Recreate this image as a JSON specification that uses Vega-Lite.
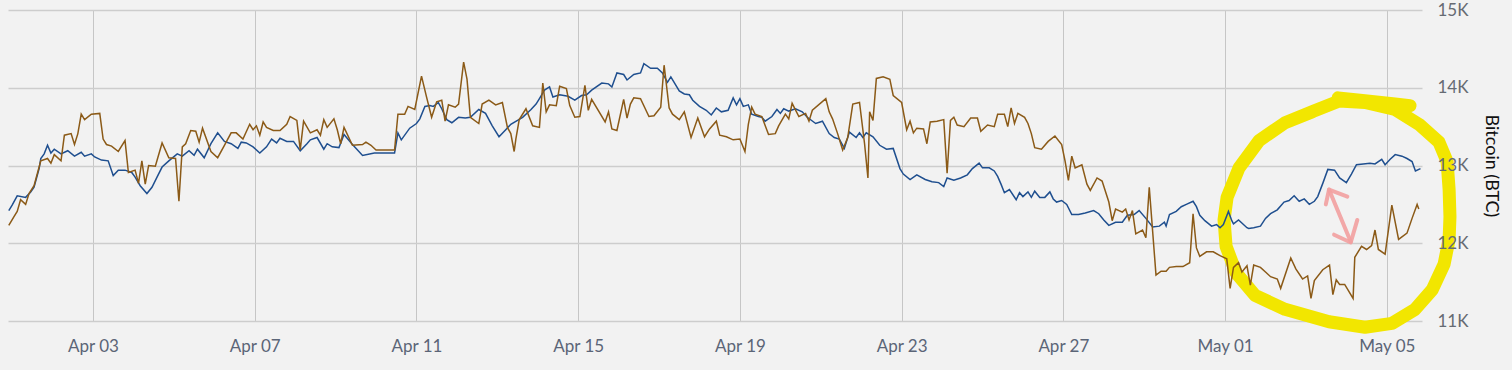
{
  "$schema": "https://vega.github.io/schema/vega-lite/v6.json",
  "width": 1414,
  "height": 311,
  "autosize": {"type": "none"},
  "padding": {"left": 8, "top": 10, "right": 90, "bottom": 49},
  "background": "#f2f2f2",
  "config": {"view": {"stroke": null}, "font": "Lato"},
  "datasets": {
    "series": [
      {"t":"2018-03-31T22:00","v":12420,"s":"Series 1"},
      {"t":"2018-04-01T00:00","v":12490,"s":"Series 1"},
      {"t":"2018-04-01T03:00","v":12610,"s":"Series 1"},
      {"t":"2018-04-01T08:00","v":12590,"s":"Series 1"},
      {"t":"2018-04-01T11:00","v":12660,"s":"Series 1"},
      {"t":"2018-04-01T13:00","v":12720,"s":"Series 1"},
      {"t":"2018-04-01T16:00","v":12960,"s":"Series 1"},
      {"t":"2018-04-01T17:00","v":13090,"s":"Series 1"},
      {"t":"2018-04-01T19:00","v":13150,"s":"Series 1"},
      {"t":"2018-04-01T21:00","v":13260,"s":"Series 1"},
      {"t":"2018-04-01T23:00","v":13160,"s":"Series 1"},
      {"t":"2018-04-02T01:00","v":13210,"s":"Series 1"},
      {"t":"2018-04-02T05:00","v":13150,"s":"Series 1"},
      {"t":"2018-04-02T09:00","v":13190,"s":"Series 1"},
      {"t":"2018-04-02T13:00","v":13120,"s":"Series 1"},
      {"t":"2018-04-02T17:00","v":13170,"s":"Series 1"},
      {"t":"2018-04-02T19:00","v":13120,"s":"Series 1"},
      {"t":"2018-04-02T23:00","v":13150,"s":"Series 1"},
      {"t":"2018-04-03T01:00","v":13110,"s":"Series 1"},
      {"t":"2018-04-03T05:00","v":13070,"s":"Series 1"},
      {"t":"2018-04-03T09:00","v":13060,"s":"Series 1"},
      {"t":"2018-04-03T12:00","v":12870,"s":"Series 1"},
      {"t":"2018-04-03T15:00","v":12940,"s":"Series 1"},
      {"t":"2018-04-03T19:00","v":12940,"s":"Series 1"},
      {"t":"2018-04-03T23:00","v":12910,"s":"Series 1"},
      {"t":"2018-04-04T01:00","v":12850,"s":"Series 1"},
      {"t":"2018-04-04T04:00","v":12740,"s":"Series 1"},
      {"t":"2018-04-04T08:00","v":12640,"s":"Series 1"},
      {"t":"2018-04-04T11:00","v":12720,"s":"Series 1"},
      {"t":"2018-04-04T14:00","v":12850,"s":"Series 1"},
      {"t":"2018-04-04T17:00","v":12980,"s":"Series 1"},
      {"t":"2018-04-04T21:00","v":13060,"s":"Series 1"},
      {"t":"2018-04-05T02:00","v":13150,"s":"Series 1"},
      {"t":"2018-04-05T05:00","v":13120,"s":"Series 1"},
      {"t":"2018-04-05T09:00","v":13190,"s":"Series 1"},
      {"t":"2018-04-05T12:00","v":13130,"s":"Series 1"},
      {"t":"2018-04-05T14:00","v":13210,"s":"Series 1"},
      {"t":"2018-04-05T18:00","v":13100,"s":"Series 1"},
      {"t":"2018-04-05T22:00","v":13280,"s":"Series 1"},
      {"t":"2018-04-06T02:00","v":13420,"s":"Series 1"},
      {"t":"2018-04-06T06:00","v":13310,"s":"Series 1"},
      {"t":"2018-04-06T10:00","v":13280,"s":"Series 1"},
      {"t":"2018-04-06T14:00","v":13220,"s":"Series 1"},
      {"t":"2018-04-06T16:00","v":13300,"s":"Series 1"},
      {"t":"2018-04-06T19:00","v":13290,"s":"Series 1"},
      {"t":"2018-04-06T23:00","v":13240,"s":"Series 1"},
      {"t":"2018-04-07T03:00","v":13160,"s":"Series 1"},
      {"t":"2018-04-07T07:00","v":13240,"s":"Series 1"},
      {"t":"2018-04-07T10:00","v":13340,"s":"Series 1"},
      {"t":"2018-04-07T13:00","v":13290,"s":"Series 1"},
      {"t":"2018-04-07T15:00","v":13350,"s":"Series 1"},
      {"t":"2018-04-07T19:00","v":13310,"s":"Series 1"},
      {"t":"2018-04-07T23:00","v":13310,"s":"Series 1"},
      {"t":"2018-04-08T03:00","v":13190,"s":"Series 1"},
      {"t":"2018-04-08T07:00","v":13280,"s":"Series 1"},
      {"t":"2018-04-08T09:00","v":13330,"s":"Series 1"},
      {"t":"2018-04-08T13:00","v":13360,"s":"Series 1"},
      {"t":"2018-04-08T17:00","v":13210,"s":"Series 1"},
      {"t":"2018-04-08T19:00","v":13280,"s":"Series 1"},
      {"t":"2018-04-08T22:00","v":13240,"s":"Series 1"},
      {"t":"2018-04-09T02:00","v":13230,"s":"Series 1"},
      {"t":"2018-04-09T05:00","v":13400,"s":"Series 1"},
      {"t":"2018-04-09T10:00","v":13270,"s":"Series 1"},
      {"t":"2018-04-09T16:00","v":13130,"s":"Series 1"},
      {"t":"2018-04-09T23:00","v":13160,"s":"Series 1"},
      {"t":"2018-04-10T11:00","v":13160,"s":"Series 1"},
      {"t":"2018-04-10T13:00","v":13420,"s":"Series 1"},
      {"t":"2018-04-10T15:00","v":13330,"s":"Series 1"},
      {"t":"2018-04-10T20:00","v":13480,"s":"Series 1"},
      {"t":"2018-04-11T00:00","v":13540,"s":"Series 1"},
      {"t":"2018-04-11T02:00","v":13600,"s":"Series 1"},
      {"t":"2018-04-11T05:00","v":13760,"s":"Series 1"},
      {"t":"2018-04-11T08:00","v":13770,"s":"Series 1"},
      {"t":"2018-04-11T10:00","v":13760,"s":"Series 1"},
      {"t":"2018-04-11T13:00","v":13810,"s":"Series 1"},
      {"t":"2018-04-11T15:00","v":13730,"s":"Series 1"},
      {"t":"2018-04-11T18:00","v":13590,"s":"Series 1"},
      {"t":"2018-04-11T21:00","v":13550,"s":"Series 1"},
      {"t":"2018-04-12T01:00","v":13620,"s":"Series 1"},
      {"t":"2018-04-12T05:00","v":13610,"s":"Series 1"},
      {"t":"2018-04-12T08:00","v":13620,"s":"Series 1"},
      {"t":"2018-04-12T13:00","v":13720,"s":"Series 1"},
      {"t":"2018-04-12T17:00","v":13670,"s":"Series 1"},
      {"t":"2018-04-12T21:00","v":13510,"s":"Series 1"},
      {"t":"2018-04-13T01:00","v":13370,"s":"Series 1"},
      {"t":"2018-04-13T05:00","v":13460,"s":"Series 1"},
      {"t":"2018-04-13T08:00","v":13530,"s":"Series 1"},
      {"t":"2018-04-13T12:00","v":13580,"s":"Series 1"},
      {"t":"2018-04-13T15:00","v":13620,"s":"Series 1"},
      {"t":"2018-04-13T20:00","v":13720,"s":"Series 1"},
      {"t":"2018-04-13T23:00","v":13790,"s":"Series 1"},
      {"t":"2018-04-14T01:00","v":13860,"s":"Series 1"},
      {"t":"2018-04-14T04:00","v":13970,"s":"Series 1"},
      {"t":"2018-04-14T07:00","v":14010,"s":"Series 1"},
      {"t":"2018-04-14T09:00","v":13880,"s":"Series 1"},
      {"t":"2018-04-14T13:00","v":13910,"s":"Series 1"},
      {"t":"2018-04-14T18:00","v":13890,"s":"Series 1"},
      {"t":"2018-04-14T22:00","v":13840,"s":"Series 1"},
      {"t":"2018-04-15T02:00","v":13900,"s":"Series 1"},
      {"t":"2018-04-15T05:00","v":13910,"s":"Series 1"},
      {"t":"2018-04-15T08:00","v":13970,"s":"Series 1"},
      {"t":"2018-04-15T14:00","v":14060,"s":"Series 1"},
      {"t":"2018-04-15T18:00","v":14050,"s":"Series 1"},
      {"t":"2018-04-15T20:00","v":14010,"s":"Series 1"},
      {"t":"2018-04-15T23:00","v":14190,"s":"Series 1"},
      {"t":"2018-04-16T03:00","v":14170,"s":"Series 1"},
      {"t":"2018-04-16T05:00","v":14100,"s":"Series 1"},
      {"t":"2018-04-16T09:00","v":14170,"s":"Series 1"},
      {"t":"2018-04-16T13:00","v":14190,"s":"Series 1"},
      {"t":"2018-04-16T15:00","v":14310,"s":"Series 1"},
      {"t":"2018-04-16T19:00","v":14250,"s":"Series 1"},
      {"t":"2018-04-16T23:00","v":14250,"s":"Series 1"},
      {"t":"2018-04-17T02:00","v":14190,"s":"Series 1"},
      {"t":"2018-04-17T05:00","v":14070,"s":"Series 1"},
      {"t":"2018-04-17T07:00","v":14140,"s":"Series 1"},
      {"t":"2018-04-17T12:00","v":13960,"s":"Series 1"},
      {"t":"2018-04-17T15:00","v":13920,"s":"Series 1"},
      {"t":"2018-04-17T18:00","v":13910,"s":"Series 1"},
      {"t":"2018-04-17T20:00","v":13840,"s":"Series 1"},
      {"t":"2018-04-18T00:00","v":13760,"s":"Series 1"},
      {"t":"2018-04-18T04:00","v":13710,"s":"Series 1"},
      {"t":"2018-04-18T07:00","v":13650,"s":"Series 1"},
      {"t":"2018-04-18T10:00","v":13740,"s":"Series 1"},
      {"t":"2018-04-18T13:00","v":13690,"s":"Series 1"},
      {"t":"2018-04-18T17:00","v":13710,"s":"Series 1"},
      {"t":"2018-04-18T20:00","v":13870,"s":"Series 1"},
      {"t":"2018-04-18T22:00","v":13780,"s":"Series 1"},
      {"t":"2018-04-19T00:00","v":13860,"s":"Series 1"},
      {"t":"2018-04-19T02:00","v":13760,"s":"Series 1"},
      {"t":"2018-04-19T05:00","v":13780,"s":"Series 1"},
      {"t":"2018-04-19T07:00","v":13660,"s":"Series 1"},
      {"t":"2018-04-19T11:00","v":13630,"s":"Series 1"},
      {"t":"2018-04-19T13:00","v":13620,"s":"Series 1"},
      {"t":"2018-04-19T15:00","v":13570,"s":"Series 1"},
      {"t":"2018-04-19T19:00","v":13630,"s":"Series 1"},
      {"t":"2018-04-19T22:00","v":13720,"s":"Series 1"},
      {"t":"2018-04-20T00:00","v":13670,"s":"Series 1"},
      {"t":"2018-04-20T02:00","v":13730,"s":"Series 1"},
      {"t":"2018-04-20T05:00","v":13700,"s":"Series 1"},
      {"t":"2018-04-20T09:00","v":13730,"s":"Series 1"},
      {"t":"2018-04-20T13:00","v":13690,"s":"Series 1"},
      {"t":"2018-04-20T16:00","v":13620,"s":"Series 1"},
      {"t":"2018-04-20T21:00","v":13540,"s":"Series 1"},
      {"t":"2018-04-21T01:00","v":13570,"s":"Series 1"},
      {"t":"2018-04-21T05:00","v":13410,"s":"Series 1"},
      {"t":"2018-04-21T08:00","v":13360,"s":"Series 1"},
      {"t":"2018-04-21T11:00","v":13340,"s":"Series 1"},
      {"t":"2018-04-21T14:00","v":13220,"s":"Series 1"},
      {"t":"2018-04-21T17:00","v":13430,"s":"Series 1"},
      {"t":"2018-04-21T21:00","v":13360,"s":"Series 1"},
      {"t":"2018-04-21T23:00","v":13420,"s":"Series 1"},
      {"t":"2018-04-22T01:00","v":13360,"s":"Series 1"},
      {"t":"2018-04-22T03:00","v":13420,"s":"Series 1"},
      {"t":"2018-04-22T07:00","v":13370,"s":"Series 1"},
      {"t":"2018-04-22T11:00","v":13260,"s":"Series 1"},
      {"t":"2018-04-22T15:00","v":13210,"s":"Series 1"},
      {"t":"2018-04-22T19:00","v":13220,"s":"Series 1"},
      {"t":"2018-04-22T23:00","v":12960,"s":"Series 1"},
      {"t":"2018-04-23T01:00","v":12890,"s":"Series 1"},
      {"t":"2018-04-23T05:00","v":12820,"s":"Series 1"},
      {"t":"2018-04-23T09:00","v":12880,"s":"Series 1"},
      {"t":"2018-04-23T14:00","v":12820,"s":"Series 1"},
      {"t":"2018-04-23T18:00","v":12790,"s":"Series 1"},
      {"t":"2018-04-23T22:00","v":12780,"s":"Series 1"},
      {"t":"2018-04-24T01:00","v":12730,"s":"Series 1"},
      {"t":"2018-04-24T03:00","v":12840,"s":"Series 1"},
      {"t":"2018-04-24T07:00","v":12810,"s":"Series 1"},
      {"t":"2018-04-24T11:00","v":12840,"s":"Series 1"},
      {"t":"2018-04-24T15:00","v":12880,"s":"Series 1"},
      {"t":"2018-04-24T18:00","v":12960,"s":"Series 1"},
      {"t":"2018-04-24T22:00","v":13030,"s":"Series 1"},
      {"t":"2018-04-25T00:00","v":12970,"s":"Series 1"},
      {"t":"2018-04-25T04:00","v":12970,"s":"Series 1"},
      {"t":"2018-04-25T07:00","v":12930,"s":"Series 1"},
      {"t":"2018-04-25T09:00","v":12860,"s":"Series 1"},
      {"t":"2018-04-25T11:00","v":12760,"s":"Series 1"},
      {"t":"2018-04-25T13:00","v":12650,"s":"Series 1"},
      {"t":"2018-04-25T16:00","v":12690,"s":"Series 1"},
      {"t":"2018-04-25T20:00","v":12560,"s":"Series 1"},
      {"t":"2018-04-25T22:00","v":12650,"s":"Series 1"},
      {"t":"2018-04-26T00:00","v":12600,"s":"Series 1"},
      {"t":"2018-04-26T03:00","v":12660,"s":"Series 1"},
      {"t":"2018-04-26T05:00","v":12590,"s":"Series 1"},
      {"t":"2018-04-26T07:00","v":12670,"s":"Series 1"},
      {"t":"2018-04-26T10:00","v":12590,"s":"Series 1"},
      {"t":"2018-04-26T13:00","v":12590,"s":"Series 1"},
      {"t":"2018-04-26T16:00","v":12660,"s":"Series 1"},
      {"t":"2018-04-26T18:00","v":12570,"s":"Series 1"},
      {"t":"2018-04-26T20:00","v":12530,"s":"Series 1"},
      {"t":"2018-04-26T23:00","v":12550,"s":"Series 1"},
      {"t":"2018-04-27T02:00","v":12500,"s":"Series 1"},
      {"t":"2018-04-27T05:00","v":12370,"s":"Series 1"},
      {"t":"2018-04-27T09:00","v":12370,"s":"Series 1"},
      {"t":"2018-04-27T13:00","v":12390,"s":"Series 1"},
      {"t":"2018-04-27T18:00","v":12420,"s":"Series 1"},
      {"t":"2018-04-27T21:00","v":12380,"s":"Series 1"},
      {"t":"2018-04-28T00:00","v":12300,"s":"Series 1"},
      {"t":"2018-04-28T03:00","v":12230,"s":"Series 1"},
      {"t":"2018-04-28T07:00","v":12270,"s":"Series 1"},
      {"t":"2018-04-28T11:00","v":12270,"s":"Series 1"},
      {"t":"2018-04-28T14:00","v":12360,"s":"Series 1"},
      {"t":"2018-04-28T18:00","v":12370,"s":"Series 1"},
      {"t":"2018-04-28T21:00","v":12420,"s":"Series 1"},
      {"t":"2018-04-29T01:00","v":12320,"s":"Series 1"},
      {"t":"2018-04-29T05:00","v":12210,"s":"Series 1"},
      {"t":"2018-04-29T09:00","v":12220,"s":"Series 1"},
      {"t":"2018-04-29T12:00","v":12270,"s":"Series 1"},
      {"t":"2018-04-29T13:00","v":12220,"s":"Series 1"},
      {"t":"2018-04-29T15:00","v":12370,"s":"Series 1"},
      {"t":"2018-04-29T19:00","v":12410,"s":"Series 1"},
      {"t":"2018-04-29T22:00","v":12470,"s":"Series 1"},
      {"t":"2018-04-30T01:00","v":12500,"s":"Series 1"},
      {"t":"2018-04-30T05:00","v":12540,"s":"Series 1"},
      {"t":"2018-04-30T07:00","v":12470,"s":"Series 1"},
      {"t":"2018-04-30T09:00","v":12360,"s":"Series 1"},
      {"t":"2018-04-30T12:00","v":12290,"s":"Series 1"},
      {"t":"2018-04-30T16:00","v":12220,"s":"Series 1"},
      {"t":"2018-04-30T19:00","v":12240,"s":"Series 1"},
      {"t":"2018-04-30T21:00","v":12200,"s":"Series 1"},
      {"t":"2018-04-30T23:00","v":12240,"s":"Series 1"},
      {"t":"2018-05-01T02:00","v":12410,"s":"Series 1"},
      {"t":"2018-05-01T04:00","v":12290,"s":"Series 1"},
      {"t":"2018-05-01T05:00","v":12250,"s":"Series 1"},
      {"t":"2018-05-01T08:00","v":12300,"s":"Series 1"},
      {"t":"2018-05-01T13:00","v":12200,"s":"Series 1"},
      {"t":"2018-05-01T14:00","v":12190,"s":"Series 1"},
      {"t":"2018-05-01T17:00","v":12200,"s":"Series 1"},
      {"t":"2018-05-01T21:00","v":12220,"s":"Series 1"},
      {"t":"2018-05-02T00:00","v":12320,"s":"Series 1"},
      {"t":"2018-05-02T03:00","v":12380,"s":"Series 1"},
      {"t":"2018-05-02T07:00","v":12430,"s":"Series 1"},
      {"t":"2018-05-02T11:00","v":12530,"s":"Series 1"},
      {"t":"2018-05-02T14:00","v":12550,"s":"Series 1"},
      {"t":"2018-05-02T17:00","v":12610,"s":"Series 1"},
      {"t":"2018-05-02T20:00","v":12540,"s":"Series 1"},
      {"t":"2018-05-02T23:00","v":12570,"s":"Series 1"},
      {"t":"2018-05-03T02:00","v":12500,"s":"Series 1"},
      {"t":"2018-05-03T05:00","v":12540,"s":"Series 1"},
      {"t":"2018-05-03T07:00","v":12600,"s":"Series 1"},
      {"t":"2018-05-03T10:00","v":12770,"s":"Series 1"},
      {"t":"2018-05-03T13:00","v":12950,"s":"Series 1"},
      {"t":"2018-05-03T17:00","v":12940,"s":"Series 1"},
      {"t":"2018-05-03T20:00","v":12840,"s":"Series 1"},
      {"t":"2018-05-04T00:00","v":12780,"s":"Series 1"},
      {"t":"2018-05-04T03:00","v":12890,"s":"Series 1"},
      {"t":"2018-05-04T06:00","v":13010,"s":"Series 1"},
      {"t":"2018-05-04T10:00","v":13020,"s":"Series 1"},
      {"t":"2018-05-04T14:00","v":13030,"s":"Series 1"},
      {"t":"2018-05-04T17:00","v":13020,"s":"Series 1"},
      {"t":"2018-05-04T21:00","v":13080,"s":"Series 1"},
      {"t":"2018-05-04T23:00","v":13010,"s":"Series 1"},
      {"t":"2018-05-05T02:00","v":13080,"s":"Series 1"},
      {"t":"2018-05-05T05:00","v":13140,"s":"Series 1"},
      {"t":"2018-05-05T09:00","v":13120,"s":"Series 1"},
      {"t":"2018-05-05T12:00","v":13090,"s":"Series 1"},
      {"t":"2018-05-05T15:00","v":13050,"s":"Series 1"},
      {"t":"2018-05-05T17:00","v":12930,"s":"Series 1"},
      {"t":"2018-05-05T20:00","v":12960,"s":"Series 1"},

      {"t":"2018-03-31T22:00","v":12230,"s":"Series 2"},
      {"t":"2018-04-01T01:00","v":12340,"s":"Series 2"},
      {"t":"2018-04-01T03:00","v":12410,"s":"Series 2"},
      {"t":"2018-04-01T05:00","v":12560,"s":"Series 2"},
      {"t":"2018-04-01T08:00","v":12500,"s":"Series 2"},
      {"t":"2018-04-01T10:00","v":12640,"s":"Series 2"},
      {"t":"2018-04-01T13:00","v":12740,"s":"Series 2"},
      {"t":"2018-04-01T16:00","v":12980,"s":"Series 2"},
      {"t":"2018-04-01T17:00","v":13060,"s":"Series 2"},
      {"t":"2018-04-01T21:00","v":13090,"s":"Series 2"},
      {"t":"2018-04-01T23:00","v":13030,"s":"Series 2"},
      {"t":"2018-04-02T01:00","v":13140,"s":"Series 2"},
      {"t":"2018-04-02T05:00","v":13060,"s":"Series 2"},
      {"t":"2018-04-02T07:00","v":13390,"s":"Series 2"},
      {"t":"2018-04-02T11:00","v":13410,"s":"Series 2"},
      {"t":"2018-04-02T13:00","v":13270,"s":"Series 2"},
      {"t":"2018-04-02T15:00","v":13410,"s":"Series 2"},
      {"t":"2018-04-02T17:00","v":13660,"s":"Series 2"},
      {"t":"2018-04-02T19:00","v":13590,"s":"Series 2"},
      {"t":"2018-04-02T23:00","v":13660,"s":"Series 2"},
      {"t":"2018-04-03T04:00","v":13670,"s":"Series 2"},
      {"t":"2018-04-03T06:00","v":13340,"s":"Series 2"},
      {"t":"2018-04-03T08:00","v":13270,"s":"Series 2"},
      {"t":"2018-04-03T11:00","v":13250,"s":"Series 2"},
      {"t":"2018-04-03T15:00","v":13180,"s":"Series 2"},
      {"t":"2018-04-03T19:00","v":13320,"s":"Series 2"},
      {"t":"2018-04-03T21:00","v":12910,"s":"Series 2"},
      {"t":"2018-04-04T01:00","v":12940,"s":"Series 2"},
      {"t":"2018-04-04T03:00","v":12770,"s":"Series 2"},
      {"t":"2018-04-04T05:00","v":13060,"s":"Series 2"},
      {"t":"2018-04-04T07:00","v":12760,"s":"Series 2"},
      {"t":"2018-04-04T09:00","v":13000,"s":"Series 2"},
      {"t":"2018-04-04T13:00","v":12990,"s":"Series 2"},
      {"t":"2018-04-04T17:00","v":13290,"s":"Series 2"},
      {"t":"2018-04-04T21:00","v":13100,"s":"Series 2"},
      {"t":"2018-04-05T01:00","v":13090,"s":"Series 2"},
      {"t":"2018-04-05T03:00","v":12540,"s":"Series 2"},
      {"t":"2018-04-05T05:00","v":13240,"s":"Series 2"},
      {"t":"2018-04-05T07:00","v":13280,"s":"Series 2"},
      {"t":"2018-04-05T10:00","v":13450,"s":"Series 2"},
      {"t":"2018-04-05T13:00","v":13440,"s":"Series 2"},
      {"t":"2018-04-05T15:00","v":13300,"s":"Series 2"},
      {"t":"2018-04-05T17:00","v":13480,"s":"Series 2"},
      {"t":"2018-04-05T22:00","v":13180,"s":"Series 2"},
      {"t":"2018-04-06T02:00","v":13100,"s":"Series 2"},
      {"t":"2018-04-06T06:00","v":13260,"s":"Series 2"},
      {"t":"2018-04-06T10:00","v":13420,"s":"Series 2"},
      {"t":"2018-04-06T13:00","v":13420,"s":"Series 2"},
      {"t":"2018-04-06T17:00","v":13340,"s":"Series 2"},
      {"t":"2018-04-06T21:00","v":13530,"s":"Series 2"},
      {"t":"2018-04-06T23:00","v":13460,"s":"Series 2"},
      {"t":"2018-04-07T01:00","v":13510,"s":"Series 2"},
      {"t":"2018-04-07T03:00","v":13390,"s":"Series 2"},
      {"t":"2018-04-07T05:00","v":13560,"s":"Series 2"},
      {"t":"2018-04-07T07:00","v":13490,"s":"Series 2"},
      {"t":"2018-04-07T11:00","v":13450,"s":"Series 2"},
      {"t":"2018-04-07T15:00","v":13450,"s":"Series 2"},
      {"t":"2018-04-07T19:00","v":13530,"s":"Series 2"},
      {"t":"2018-04-07T21:00","v":13630,"s":"Series 2"},
      {"t":"2018-04-08T01:00","v":13580,"s":"Series 2"},
      {"t":"2018-04-08T03:00","v":13200,"s":"Series 2"},
      {"t":"2018-04-08T05:00","v":13570,"s":"Series 2"},
      {"t":"2018-04-08T09:00","v":13420,"s":"Series 2"},
      {"t":"2018-04-08T13:00","v":13460,"s":"Series 2"},
      {"t":"2018-04-08T15:00","v":13390,"s":"Series 2"},
      {"t":"2018-04-08T17:00","v":13590,"s":"Series 2"},
      {"t":"2018-04-08T19:00","v":13490,"s":"Series 2"},
      {"t":"2018-04-08T23:00","v":13600,"s":"Series 2"},
      {"t":"2018-04-09T01:00","v":13460,"s":"Series 2"},
      {"t":"2018-04-09T03:00","v":13280,"s":"Series 2"},
      {"t":"2018-04-09T05:00","v":13490,"s":"Series 2"},
      {"t":"2018-04-09T10:00","v":13260,"s":"Series 2"},
      {"t":"2018-04-09T16:00","v":13270,"s":"Series 2"},
      {"t":"2018-04-09T18:00","v":13300,"s":"Series 2"},
      {"t":"2018-04-09T21:00","v":13260,"s":"Series 2"},
      {"t":"2018-04-10T00:00","v":13200,"s":"Series 2"},
      {"t":"2018-04-10T11:00","v":13200,"s":"Series 2"},
      {"t":"2018-04-10T13:00","v":13660,"s":"Series 2"},
      {"t":"2018-04-10T17:00","v":13660,"s":"Series 2"},
      {"t":"2018-04-10T19:00","v":13760,"s":"Series 2"},
      {"t":"2018-04-10T23:00","v":13720,"s":"Series 2"},
      {"t":"2018-04-11T03:00","v":14150,"s":"Series 2"},
      {"t":"2018-04-11T06:00","v":13880,"s":"Series 2"},
      {"t":"2018-04-11T09:00","v":13620,"s":"Series 2"},
      {"t":"2018-04-11T12:00","v":13820,"s":"Series 2"},
      {"t":"2018-04-11T15:00","v":13840,"s":"Series 2"},
      {"t":"2018-04-11T17:00","v":13570,"s":"Series 2"},
      {"t":"2018-04-11T19:00","v":13780,"s":"Series 2"},
      {"t":"2018-04-11T23:00","v":13750,"s":"Series 2"},
      {"t":"2018-04-12T01:00","v":13790,"s":"Series 2"},
      {"t":"2018-04-12T04:00","v":14330,"s":"Series 2"},
      {"t":"2018-04-12T06:00","v":14110,"s":"Series 2"},
      {"t":"2018-04-12T08:00","v":13620,"s":"Series 2"},
      {"t":"2018-04-12T13:00","v":13540,"s":"Series 2"},
      {"t":"2018-04-12T15:00","v":13790,"s":"Series 2"},
      {"t":"2018-04-12T19:00","v":13840,"s":"Series 2"},
      {"t":"2018-04-12T23:00","v":13780,"s":"Series 2"},
      {"t":"2018-04-13T03:00","v":13810,"s":"Series 2"},
      {"t":"2018-04-13T06:00","v":13490,"s":"Series 2"},
      {"t":"2018-04-13T08:00","v":13410,"s":"Series 2"},
      {"t":"2018-04-13T10:00","v":13180,"s":"Series 2"},
      {"t":"2018-04-13T11:00","v":13340,"s":"Series 2"},
      {"t":"2018-04-13T13:00","v":13590,"s":"Series 2"},
      {"t":"2018-04-13T17:00","v":13730,"s":"Series 2"},
      {"t":"2018-04-13T21:00","v":13510,"s":"Series 2"},
      {"t":"2018-04-14T01:00","v":13490,"s":"Series 2"},
      {"t":"2018-04-14T03:00","v":14060,"s":"Series 2"},
      {"t":"2018-04-14T05:00","v":13690,"s":"Series 2"},
      {"t":"2018-04-14T07:00","v":13780,"s":"Series 2"},
      {"t":"2018-04-14T11:00","v":13770,"s":"Series 2"},
      {"t":"2018-04-14T13:00","v":14020,"s":"Series 2"},
      {"t":"2018-04-14T17:00","v":13990,"s":"Series 2"},
      {"t":"2018-04-14T19:00","v":13770,"s":"Series 2"},
      {"t":"2018-04-14T22:00","v":13620,"s":"Series 2"},
      {"t":"2018-04-15T01:00","v":13630,"s":"Series 2"},
      {"t":"2018-04-15T04:00","v":14030,"s":"Series 2"},
      {"t":"2018-04-15T06:00","v":13710,"s":"Series 2"},
      {"t":"2018-04-15T08:00","v":13850,"s":"Series 2"},
      {"t":"2018-04-15T16:00","v":13560,"s":"Series 2"},
      {"t":"2018-04-15T18:00","v":13690,"s":"Series 2"},
      {"t":"2018-04-15T20:00","v":13470,"s":"Series 2"},
      {"t":"2018-04-15T23:00","v":13450,"s":"Series 2"},
      {"t":"2018-04-16T03:00","v":13850,"s":"Series 2"},
      {"t":"2018-04-16T05:00","v":13610,"s":"Series 2"},
      {"t":"2018-04-16T07:00","v":13790,"s":"Series 2"},
      {"t":"2018-04-16T09:00","v":13870,"s":"Series 2"},
      {"t":"2018-04-16T13:00","v":13860,"s":"Series 2"},
      {"t":"2018-04-16T18:00","v":13630,"s":"Series 2"},
      {"t":"2018-04-16T21:00","v":13640,"s":"Series 2"},
      {"t":"2018-04-17T01:00","v":13750,"s":"Series 2"},
      {"t":"2018-04-17T03:00","v":14290,"s":"Series 2"},
      {"t":"2018-04-17T06:00","v":13740,"s":"Series 2"},
      {"t":"2018-04-17T08:00","v":13660,"s":"Series 2"},
      {"t":"2018-04-17T12:00","v":13590,"s":"Series 2"},
      {"t":"2018-04-17T15:00","v":13690,"s":"Series 2"},
      {"t":"2018-04-17T19:00","v":13360,"s":"Series 2"},
      {"t":"2018-04-17T23:00","v":13610,"s":"Series 2"},
      {"t":"2018-04-18T03:00","v":13370,"s":"Series 2"},
      {"t":"2018-04-18T06:00","v":13470,"s":"Series 2"},
      {"t":"2018-04-18T10:00","v":13570,"s":"Series 2"},
      {"t":"2018-04-18T12:00","v":13390,"s":"Series 2"},
      {"t":"2018-04-18T16:00","v":13370,"s":"Series 2"},
      {"t":"2018-04-18T20:00","v":13330,"s":"Series 2"},
      {"t":"2018-04-19T00:00","v":13340,"s":"Series 2"},
      {"t":"2018-04-19T03:00","v":13180,"s":"Series 2"},
      {"t":"2018-04-19T05:00","v":13530,"s":"Series 2"},
      {"t":"2018-04-19T07:00","v":13750,"s":"Series 2"},
      {"t":"2018-04-19T09:00","v":13660,"s":"Series 2"},
      {"t":"2018-04-19T13:00","v":13630,"s":"Series 2"},
      {"t":"2018-04-19T17:00","v":13400,"s":"Series 2"},
      {"t":"2018-04-19T21:00","v":13410,"s":"Series 2"},
      {"t":"2018-04-19T23:00","v":13510,"s":"Series 2"},
      {"t":"2018-04-20T03:00","v":13660,"s":"Series 2"},
      {"t":"2018-04-20T05:00","v":13600,"s":"Series 2"},
      {"t":"2018-04-20T07:00","v":13800,"s":"Series 2"},
      {"t":"2018-04-20T11:00","v":13630,"s":"Series 2"},
      {"t":"2018-04-20T15:00","v":13670,"s":"Series 2"},
      {"t":"2018-04-20T17:00","v":13570,"s":"Series 2"},
      {"t":"2018-04-20T19:00","v":13710,"s":"Series 2"},
      {"t":"2018-04-21T03:00","v":13860,"s":"Series 2"},
      {"t":"2018-04-21T05:00","v":13690,"s":"Series 2"},
      {"t":"2018-04-21T07:00","v":13600,"s":"Series 2"},
      {"t":"2018-04-21T10:00","v":13410,"s":"Series 2"},
      {"t":"2018-04-21T13:00","v":13200,"s":"Series 2"},
      {"t":"2018-04-21T16:00","v":13360,"s":"Series 2"},
      {"t":"2018-04-21T19:00","v":13790,"s":"Series 2"},
      {"t":"2018-04-21T23:00","v":13810,"s":"Series 2"},
      {"t":"2018-04-22T02:00","v":13280,"s":"Series 2"},
      {"t":"2018-04-22T04:00","v":12840,"s":"Series 2"},
      {"t":"2018-04-22T05:00","v":13690,"s":"Series 2"},
      {"t":"2018-04-22T07:00","v":13580,"s":"Series 2"},
      {"t":"2018-04-22T09:00","v":14120,"s":"Series 2"},
      {"t":"2018-04-22T13:00","v":14140,"s":"Series 2"},
      {"t":"2018-04-22T17:00","v":14110,"s":"Series 2"},
      {"t":"2018-04-22T19:00","v":13900,"s":"Series 2"},
      {"t":"2018-04-23T00:00","v":13810,"s":"Series 2"},
      {"t":"2018-04-23T03:00","v":13460,"s":"Series 2"},
      {"t":"2018-04-23T05:00","v":13570,"s":"Series 2"},
      {"t":"2018-04-23T07:00","v":13420,"s":"Series 2"},
      {"t":"2018-04-23T09:00","v":13480,"s":"Series 2"},
      {"t":"2018-04-23T13:00","v":13470,"s":"Series 2"},
      {"t":"2018-04-23T15:00","v":13280,"s":"Series 2"},
      {"t":"2018-04-23T17:00","v":13560,"s":"Series 2"},
      {"t":"2018-04-23T21:00","v":13570,"s":"Series 2"},
      {"t":"2018-04-24T01:00","v":13590,"s":"Series 2"},
      {"t":"2018-04-24T03:00","v":12900,"s":"Series 2"},
      {"t":"2018-04-24T05:00","v":13580,"s":"Series 2"},
      {"t":"2018-04-24T07:00","v":13620,"s":"Series 2"},
      {"t":"2018-04-24T09:00","v":13520,"s":"Series 2"},
      {"t":"2018-04-24T13:00","v":13500,"s":"Series 2"},
      {"t":"2018-04-24T17:00","v":13610,"s":"Series 2"},
      {"t":"2018-04-24T21:00","v":13610,"s":"Series 2"},
      {"t":"2018-04-24T23:00","v":13440,"s":"Series 2"},
      {"t":"2018-04-25T03:00","v":13520,"s":"Series 2"},
      {"t":"2018-04-25T07:00","v":13500,"s":"Series 2"},
      {"t":"2018-04-25T09:00","v":13660,"s":"Series 2"},
      {"t":"2018-04-25T13:00","v":13660,"s":"Series 2"},
      {"t":"2018-04-25T15:00","v":13500,"s":"Series 2"},
      {"t":"2018-04-25T17:00","v":13740,"s":"Series 2"},
      {"t":"2018-04-25T19:00","v":13540,"s":"Series 2"},
      {"t":"2018-04-25T21:00","v":13670,"s":"Series 2"},
      {"t":"2018-04-26T01:00","v":13620,"s":"Series 2"},
      {"t":"2018-04-26T03:00","v":13540,"s":"Series 2"},
      {"t":"2018-04-26T05:00","v":13410,"s":"Series 2"},
      {"t":"2018-04-26T07:00","v":13230,"s":"Series 2"},
      {"t":"2018-04-26T11:00","v":13210,"s":"Series 2"},
      {"t":"2018-04-26T15:00","v":13310,"s":"Series 2"},
      {"t":"2018-04-26T19:00","v":13380,"s":"Series 2"},
      {"t":"2018-04-26T23:00","v":13270,"s":"Series 2"},
      {"t":"2018-04-27T01:00","v":13060,"s":"Series 2"},
      {"t":"2018-04-27T03:00","v":12810,"s":"Series 2"},
      {"t":"2018-04-27T05:00","v":13120,"s":"Series 2"},
      {"t":"2018-04-27T07:00","v":12970,"s":"Series 2"},
      {"t":"2018-04-27T11:00","v":13010,"s":"Series 2"},
      {"t":"2018-04-27T14:00","v":12760,"s":"Series 2"},
      {"t":"2018-04-27T16:00","v":12680,"s":"Series 2"},
      {"t":"2018-04-27T20:00","v":12840,"s":"Series 2"},
      {"t":"2018-04-27T23:00","v":12800,"s":"Series 2"},
      {"t":"2018-04-28T03:00","v":12530,"s":"Series 2"},
      {"t":"2018-04-28T05:00","v":12290,"s":"Series 2"},
      {"t":"2018-04-28T07:00","v":12440,"s":"Series 2"},
      {"t":"2018-04-28T11:00","v":12400,"s":"Series 2"},
      {"t":"2018-04-28T13:00","v":12440,"s":"Series 2"},
      {"t":"2018-04-28T15:00","v":12300,"s":"Series 2"},
      {"t":"2018-04-28T17:00","v":12420,"s":"Series 2"},
      {"t":"2018-04-28T19:00","v":12120,"s":"Series 2"},
      {"t":"2018-04-28T23:00","v":12170,"s":"Series 2"},
      {"t":"2018-04-29T01:00","v":12070,"s":"Series 2"},
      {"t":"2018-04-29T03:00","v":12720,"s":"Series 2"},
      {"t":"2018-04-29T07:00","v":11590,"s":"Series 2"},
      {"t":"2018-04-29T10:00","v":11640,"s":"Series 2"},
      {"t":"2018-04-29T13:00","v":11640,"s":"Series 2"},
      {"t":"2018-04-29T15:00","v":11690,"s":"Series 2"},
      {"t":"2018-04-29T19:00","v":11700,"s":"Series 2"},
      {"t":"2018-04-29T23:00","v":11700,"s":"Series 2"},
      {"t":"2018-04-30T03:00","v":11750,"s":"Series 2"},
      {"t":"2018-04-30T05:00","v":12380,"s":"Series 2"},
      {"t":"2018-04-30T07:00","v":11940,"s":"Series 2"},
      {"t":"2018-04-30T09:00","v":11830,"s":"Series 2"},
      {"t":"2018-04-30T13:00","v":11890,"s":"Series 2"},
      {"t":"2018-04-30T17:00","v":11890,"s":"Series 2"},
      {"t":"2018-04-30T21:00","v":11840,"s":"Series 2"},
      {"t":"2018-05-01T01:00","v":11800,"s":"Series 2"},
      {"t":"2018-05-01T03:00","v":11420,"s":"Series 2"},
      {"t":"2018-05-01T05:00","v":11690,"s":"Series 2"},
      {"t":"2018-05-01T08:00","v":11750,"s":"Series 2"},
      {"t":"2018-05-01T10:00","v":11630,"s":"Series 2"},
      {"t":"2018-05-01T13:00","v":11710,"s":"Series 2"},
      {"t":"2018-05-01T15:00","v":11460,"s":"Series 2"},
      {"t":"2018-05-01T17:00","v":11720,"s":"Series 2"},
      {"t":"2018-05-01T21:00","v":11690,"s":"Series 2"},
      {"t":"2018-05-02T00:00","v":11630,"s":"Series 2"},
      {"t":"2018-05-02T03:00","v":11570,"s":"Series 2"},
      {"t":"2018-05-02T07:00","v":11540,"s":"Series 2"},
      {"t":"2018-05-02T09:00","v":11420,"s":"Series 2"},
      {"t":"2018-05-02T15:00","v":11810,"s":"Series 2"},
      {"t":"2018-05-02T18:00","v":11670,"s":"Series 2"},
      {"t":"2018-05-02T22:00","v":11540,"s":"Series 2"},
      {"t":"2018-05-03T01:00","v":11580,"s":"Series 2"},
      {"t":"2018-05-03T03:00","v":11290,"s":"Series 2"},
      {"t":"2018-05-03T05:00","v":11520,"s":"Series 2"},
      {"t":"2018-05-03T10:00","v":11660,"s":"Series 2"},
      {"t":"2018-05-03T14:00","v":11720,"s":"Series 2"},
      {"t":"2018-05-03T16:00","v":11340,"s":"Series 2"},
      {"t":"2018-05-03T18:00","v":11530,"s":"Series 2"},
      {"t":"2018-05-03T20:00","v":11470,"s":"Series 2"},
      {"t":"2018-05-03T23:00","v":11470,"s":"Series 2"},
      {"t":"2018-05-04T04:00","v":11290,"s":"Series 2"},
      {"t":"2018-05-04T05:00","v":11820,"s":"Series 2"},
      {"t":"2018-05-04T09:00","v":11960,"s":"Series 2"},
      {"t":"2018-05-04T12:00","v":11920,"s":"Series 2"},
      {"t":"2018-05-04T15:00","v":11970,"s":"Series 2"},
      {"t":"2018-05-04T17:00","v":12170,"s":"Series 2"},
      {"t":"2018-05-04T19:00","v":11920,"s":"Series 2"},
      {"t":"2018-05-04T23:00","v":11860,"s":"Series 2"},
      {"t":"2018-05-05T03:00","v":12490,"s":"Series 2"},
      {"t":"2018-05-05T07:00","v":12050,"s":"Series 2"},
      {"t":"2018-05-05T12:00","v":12130,"s":"Series 2"},
      {"t":"2018-05-05T15:00","v":12320,"s":"Series 2"},
      {"t":"2018-05-05T18:00","v":12500,"s":"Series 2"},
      {"t":"2018-05-05T19:00","v":12440,"s":"Series 2"}
    ],
    "circle": [
      {"part":"a","i":0,"t":"2018-05-02T14:36","v":13575},
      {"part":"a","i":1,"t":"2018-05-03T03:36","v":13690},
      {"part":"a","i":2,"t":"2018-05-03T19:42","v":13830},
      {"part":"a","i":3,"t":"2018-05-04T11:06","v":13810},
      {"part":"a","i":4,"t":"2018-05-05T04:54","v":13720},
      {"part":"a","i":5,"t":"2018-05-05T19:42","v":13520},
      {"part":"a","i":6,"t":"2018-05-06T07:00","v":13300},
      {"part":"a","i":7,"t":"2018-05-06T11:48","v":13050},
      {"part":"a","i":8,"t":"2018-05-06T13:00","v":12690},
      {"part":"a","i":9,"t":"2018-05-06T13:30","v":12340},
      {"part":"a","i":10,"t":"2018-05-06T13:00","v":12050},
      {"part":"a","i":11,"t":"2018-05-06T10:00","v":11730},
      {"part":"a","i":12,"t":"2018-05-06T02:54","v":11400},
      {"part":"a","i":13,"t":"2018-05-05T16:48","v":11150},
      {"part":"a","i":14,"t":"2018-05-05T03:06","v":10970},
      {"part":"a","i":15,"t":"2018-05-04T11:06","v":10920},
      {"part":"a","i":16,"t":"2018-05-03T13:42","v":10990},
      {"part":"a","i":17,"t":"2018-05-02T11:36","v":11150},
      {"part":"a","i":18,"t":"2018-05-01T17:48","v":11330},
      {"part":"a","i":19,"t":"2018-05-01T06:30","v":11620},
      {"part":"a","i":20,"t":"2018-05-01T00:36","v":11960},
      {"part":"a","i":21,"t":"2018-04-30T23:24","v":12300},
      {"part":"a","i":22,"t":"2018-05-01T01:12","v":12590},
      {"part":"a","i":23,"t":"2018-05-01T08:18","v":12970},
      {"part":"a","i":24,"t":"2018-05-01T20:12","v":13320},
      {"part":"a","i":25,"t":"2018-05-02T11:36","v":13550},
      {"part":"a","i":26,"t":"2018-05-03T03:36","v":13690},
      {"part":"b","i":0,"t":"2018-05-03T19:06","v":13870},
      {"part":"b","i":1,"t":"2018-05-04T08:06","v":13840},
      {"part":"b","i":2,"t":"2018-05-05T04:54","v":13790},
      {"part":"b","i":3,"t":"2018-05-05T13:48","v":13770}
    ],
    "arrow": [
      {"part":"c1","i":0,"t":"2018-05-03T11:48","v":12500},
      {"part":"c1","i":1,"t":"2018-05-03T13:42","v":12690},
      {"part":"c1","i":2,"t":"2018-05-04T00:36","v":12600},
      {"part":"c2","i":0,"t":"2018-05-03T13:42","v":12690},
      {"part":"c2","i":1,"t":"2018-05-04T02:36","v":12020},
      {"part":"c3","i":0,"t":"2018-05-03T16:42","v":12110},
      {"part":"c3","i":1,"t":"2018-05-04T02:36","v":12010},
      {"part":"c3","i":2,"t":"2018-05-04T06:30","v":12300}
    ]
  },
  "encoding": {
    "x": {
      "field": "t",
      "type": "temporal",
      "scale": {"domain": [
        {"year": 2018, "month": 3, "date": 31, "hours": 21, "minutes": 32},
        {"year": 2018, "month": 5, "date": 5, "hours": 20, "minutes": 54}
      ]},
      "axis": {
        "values": [
          {"year": 2018, "month": 4, "date": 3},
          {"year": 2018, "month": 4, "date": 7},
          {"year": 2018, "month": 4, "date": 11},
          {"year": 2018, "month": 4, "date": 15},
          {"year": 2018, "month": 4, "date": 19},
          {"year": 2018, "month": 4, "date": 23},
          {"year": 2018, "month": 4, "date": 27},
          {"year": 2018, "month": 5, "date": 1},
          {"year": 2018, "month": 5, "date": 5}
        ],
        "format": "%b %d",
        "grid": true,
        "gridColor": "#c6c6c6",
        "gridWidth": 1,
        "ticks": false,
        "domain": false,
        "labelFont": "Lato",
        "labelFontSize": 17,
        "labelColor": "#5b6577",
        "labelPadding": 17,
        "labelFlush": false,
        "labelOverlap": false,
        "title": null,
        "zindex": 0
      }
    }
  },
  "layer": [
    {
      "data": {"name": "circle"},
      "mark": {"type": "line", "color": "#f2e600", "strokeWidth": 13, "strokeCap": "round", "strokeJoin": "round", "clip": false},
      "encoding": {
        "y": {
          "field": "v", "type": "quantitative",
          "scale": {"domain": [11000, 15000], "zero": false, "nice": false},
          "axis": {
            "orient": "right",
            "values": [11000, 12000, 13000, 14000, 15000],
            "grid": true, "gridColor": "#cdcdcd", "gridWidth": 1.5,
            "labels": false, "ticks": false, "domain": false, "title": null,
            "zindex": 0
          }
        },
        "detail": {"field": "part", "type": "nominal"},
        "order": {"field": "i", "type": "quantitative"}
      }
    },
    {
      "data": {"name": "series"},
      "mark": {"type": "line", "strokeWidth": 1.5},
      "encoding": {
        "y": {
          "field": "v", "type": "quantitative",
          "scale": {"domain": [11000, 15000], "zero": false, "nice": false},
          "axis": {
            "orient": "right",
            "values": [11000, 12000, 13000, 14000, 15000],
            "labelExpr": "(datum.value / 1000) + 'K'",
            "grid": false, "ticks": false, "domain": false,
            "labelFont": "Lato", "labelFontSize": 17, "labelColor": "#666b73",
            "labelPadding": 15,
            "title": "Bitcoin (BTC)",
            "titleFont": "Lato", "titleFontSize": 18, "titleFontWeight": "normal", "titleColor": "#111111",
            "titlePadding": 14,
            "zindex": 1
          }
        },
        "color": {
          "field": "s", "type": "nominal",
          "scale": {"domain": ["Series 1", "Series 2"], "range": ["#1f4f8f", "#8b5a17"]},
          "legend": null
        }
      }
    },
    {
      "data": {"name": "arrow"},
      "mark": {"type": "line", "color": "#f2a0a0", "strokeWidth": 4, "strokeCap": "round", "strokeJoin": "round", "opacity": 0.9, "clip": false},
      "encoding": {
        "y": {
          "field": "v", "type": "quantitative",
          "scale": {"domain": [11000, 15000], "zero": false, "nice": false},
          "axis": null
        },
        "detail": {"field": "part", "type": "nominal"},
        "order": {"field": "i", "type": "quantitative"}
      }
    }
  ],
  "resolve": {"axis": {"y": "independent"}}
}
